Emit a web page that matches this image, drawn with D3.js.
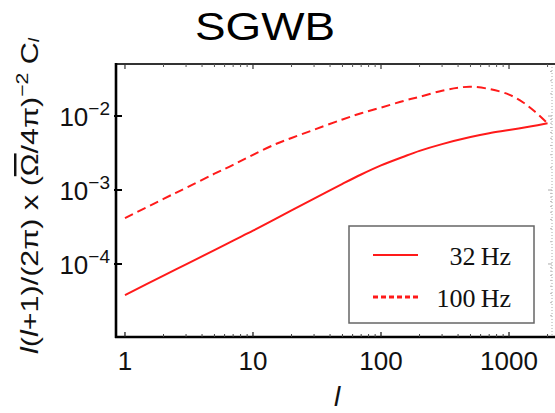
<!DOCTYPE html>
<html>
<head>
<meta charset="utf-8">
<script src="https://cdn.jsdelivr.net/npm/d3@7"></script>
<style>
  html, body { margin: 0; padding: 0; background: #fff; }
  svg { display: block; }
</style>
</head>
<body>
<svg id="chart" width="555" height="413"></svg>
<script>
// ---- data ----
const ell32 = [1, 2, 3, 5, 7, 10, 15, 20, 30, 50, 70, 100, 150, 200, 300, 500, 700, 1000, 1500, 2000];
const cl32  = [3.80e-5, 6.95e-5, 9.89e-5, 1.54e-4, 2.07e-4, 2.82e-4, 4.07e-4, 5.31e-4, 7.64e-4, 1.21e-3,
               1.62e-3, 2.15e-3, 2.82e-3, 3.38e-3, 4.17e-3, 5.19e-3, 5.85e-3, 6.46e-3, 7.28e-3, 7.96e-3];
const ell100 = [1, 2, 3, 5, 7, 10, 15, 20, 30, 50, 70, 100, 150, 200, 300, 400, 500, 700, 1000, 1300, 1600, 2000];
const cl100  = [4.17e-4, 7.59e-4, 1.07e-3, 1.66e-3, 2.19e-3, 2.99e-3, 4.17e-3, 5.05e-3, 6.53e-3, 8.99e-3,
                1.09e-2, 1.30e-2, 1.60e-2, 1.82e-2, 2.20e-2, 2.41e-2, 2.49e-2, 2.32e-2, 1.95e-2, 1.51e-2, 1.14e-2, 7.96e-3];
const xTickValues = [1, 10, 100, 1000];
const xTickLabels = ["1", "10", "100", "1000"];
const yTickValues = [1e-2, 1e-3, 1e-4];
const yTickExponents = ["\u22122", "\u22123", "\u22124"];
const seriesNames = ["32\u2009Hz", "100\u2009Hz"];
const titleText = "SGWB";

// ---- layout ----
const svg = d3.select("#chart");
const L = 116, R = 553, T = 64, B = 337;
const x = d3.scaleLog().domain([0.851, 2206]).range([L, R]);
const y = d3.scaleLog().domain([1.03e-5, 0.0505]).range([B, T]);
const sans = "'Liberation Sans', Arial, Helvetica, sans-serif";
const serif = "'Liberation Serif', 'Times New Roman', serif";
const red = "#ff1a1a";

// title
svg.append("text").attr("x", 265).attr("y", 40)
  .attr("text-anchor", "middle").attr("font-family", sans).attr("font-size", 38)
  .attr("textLength", 140).attr("lengthAdjust", "spacingAndGlyphs")
  .attr("fill", "#000").text(titleText);

// minor tick values
const xMinor = [];
for (let d = 1; d <= 1000; d *= 10) for (let k = 2; k <= 9; k++) if (d * k < 2206) xMinor.push(d * k);
const yMinor = [];
for (let d = 1e-5; d < 0.05; d *= 10) for (let k = 2; k <= 9; k++) if (d * k < 0.0505 && d * k > 1.03e-5) yMinor.push(d * k);

const g = svg.append("g");

// right faint dotted border and ticks
g.append("line").attr("x1", 552).attr("x2", 552).attr("y1", T).attr("y2", B)
  .attr("stroke", "#aaa").attr("stroke-width", 1).attr("stroke-dasharray", "1,2");
g.selectAll(".rmaj").data(yTickValues).enter().append("line")
  .attr("x1", 548).attr("x2", 552).attr("y1", d => y(d)).attr("y2", d => y(d))
  .attr("stroke", "#aaa").attr("stroke-width", 1);
g.selectAll(".rmin").data(yMinor).enter().append("line")
  .attr("x1", 550).attr("x2", 552).attr("y1", d => y(d)).attr("y2", d => y(d))
  .attr("stroke", "#bbb").attr("stroke-width", 1);

// top border + ticks
g.append("line").attr("x1", L).attr("x2", 555).attr("y1", T).attr("y2", T)
  .attr("stroke", "#333").attr("stroke-width", 2);
g.selectAll(".tmin").data(xMinor).enter().append("line")
  .attr("x1", d => x(d)).attr("x2", d => x(d)).attr("y1", T).attr("y2", T + 3)
  .attr("stroke", "#555").attr("stroke-width", 1);
g.selectAll(".tmaj").data(xTickValues).enter().append("line")
  .attr("x1", d => x(d)).attr("x2", d => x(d)).attr("y1", T).attr("y2", T + 5)
  .attr("stroke", "#333").attr("stroke-width", 1.2);

// bottom axis
g.append("line").attr("x1", L - 1).attr("x2", 555).attr("y1", B).attr("y2", B)
  .attr("stroke", "#000").attr("stroke-width", 2.6);
g.selectAll(".bmin").data(xMinor).enter().append("line")
  .attr("x1", d => x(d)).attr("x2", d => x(d)).attr("y1", B).attr("y2", B - 3)
  .attr("stroke", "#444").attr("stroke-width", 1);
g.selectAll(".bmaj").data(xTickValues).enter().append("line")
  .attr("x1", d => x(d)).attr("x2", d => x(d)).attr("y1", B).attr("y2", B - 5)
  .attr("stroke", "#222").attr("stroke-width", 1.3);

// left axis
g.append("line").attr("x1", L).attr("x2", L).attr("y1", T - 1).attr("y2", B + 1)
  .attr("stroke", "#000").attr("stroke-width", 2.6);
g.selectAll(".lmaj").data(yTickValues).enter().append("line")
  .attr("x1", L - 2).attr("x2", L + 6).attr("y1", d => y(d)).attr("y2", d => y(d))
  .attr("stroke", "#000").attr("stroke-width", 2);

// x tick labels
g.selectAll(".xl").data(xTickValues).enter().append("text")
  .attr("x", d => x(d)).attr("y", 370).attr("text-anchor", "middle")
  .attr("font-family", sans).attr("font-size", 26).attr("fill", "#111")
  .text((d, i) => xTickLabels[i]);

// y tick labels
const yl = g.selectAll(".yl").data(yTickValues).enter().append("text")
  .attr("x", 110).attr("y", d => y(d) + 10).attr("text-anchor", "end")
  .attr("font-family", sans).attr("font-size", 26).attr("fill", "#111");
yl.append("tspan").text("10");
yl.append("tspan").attr("dy", -11).attr("font-size", 19).text((d, i) => yTickExponents[i]);

// axis titles
svg.append("text").attr("x", 337).attr("y", 406).attr("text-anchor", "middle")
  .attr("font-family", sans).attr("font-style", "italic").attr("font-size", 28).attr("fill", "#111")
  .text("l");

const ylab = svg.append("text")
  .attr("transform", "translate(38,196) rotate(-90)")
  .attr("text-anchor", "middle").attr("font-family", sans).attr("font-size", 24.5).attr("fill", "#111")
  .attr("textLength", 316).attr("lengthAdjust", "spacingAndGlyphs");
ylab.append("tspan").attr("font-style", "italic").text("l");
ylab.append("tspan").text("(");
ylab.append("tspan").attr("font-style", "italic").text("l");
ylab.append("tspan").text("+1)/(2\u03c0) x (");
ylab.append("tspan").style("text-decoration", "overline").text("\u03a9");
ylab.append("tspan").text("/4\u03c0)");
ylab.append("tspan").attr("dy", -10).attr("font-size", 17).text("\u22122");
ylab.append("tspan").attr("dy", 10).text(" C");
ylab.append("tspan").attr("dy", 1).attr("font-size", 15).attr("font-style", "italic").text("l");

// curves
const line = d3.line().x(d => x(d[0])).y(d => y(d[1])).curve(d3.curveCatmullRom.alpha(0.5));
const data32 = ell32.map((l, i) => [l, cl32[i]]);
const data100 = ell100.map((l, i) => [l, cl100[i]]);
g.append("path").datum(data32).attr("d", line)
  .attr("fill", "none").attr("stroke", red).attr("stroke-width", 2);
g.append("path").datum(data100).attr("d", line)
  .attr("fill", "none").attr("stroke", red).attr("stroke-width", 2).attr("stroke-dasharray", "9,5");

// legend
const lg = svg.append("g");
lg.append("rect").attr("x", 349).attr("y", 226).attr("width", 185).attr("height", 97)
  .attr("fill", "#fff").attr("stroke", "#666").attr("stroke-width", 1.5);
const legendRows = [
  { name: seriesNames[0], dash: null, w: 2, yy: 255 },
  { name: seriesNames[1], dash: "5,3", w: 3, yy: 297 }
];
legendRows.forEach(r => {
  lg.append("line").attr("x1", 373).attr("x2", 418).attr("y1", r.yy).attr("y2", r.yy)
    .attr("stroke", red).attr("stroke-width", r.w).attr("stroke-dasharray", r.dash);
  lg.append("text").attr("x", 511).attr("y", r.yy + 10).attr("text-anchor", "end")
    .attr("font-family", serif).attr("font-size", 26).attr("fill", "#111").text(r.name);
});
</script>
</body>
</html>
